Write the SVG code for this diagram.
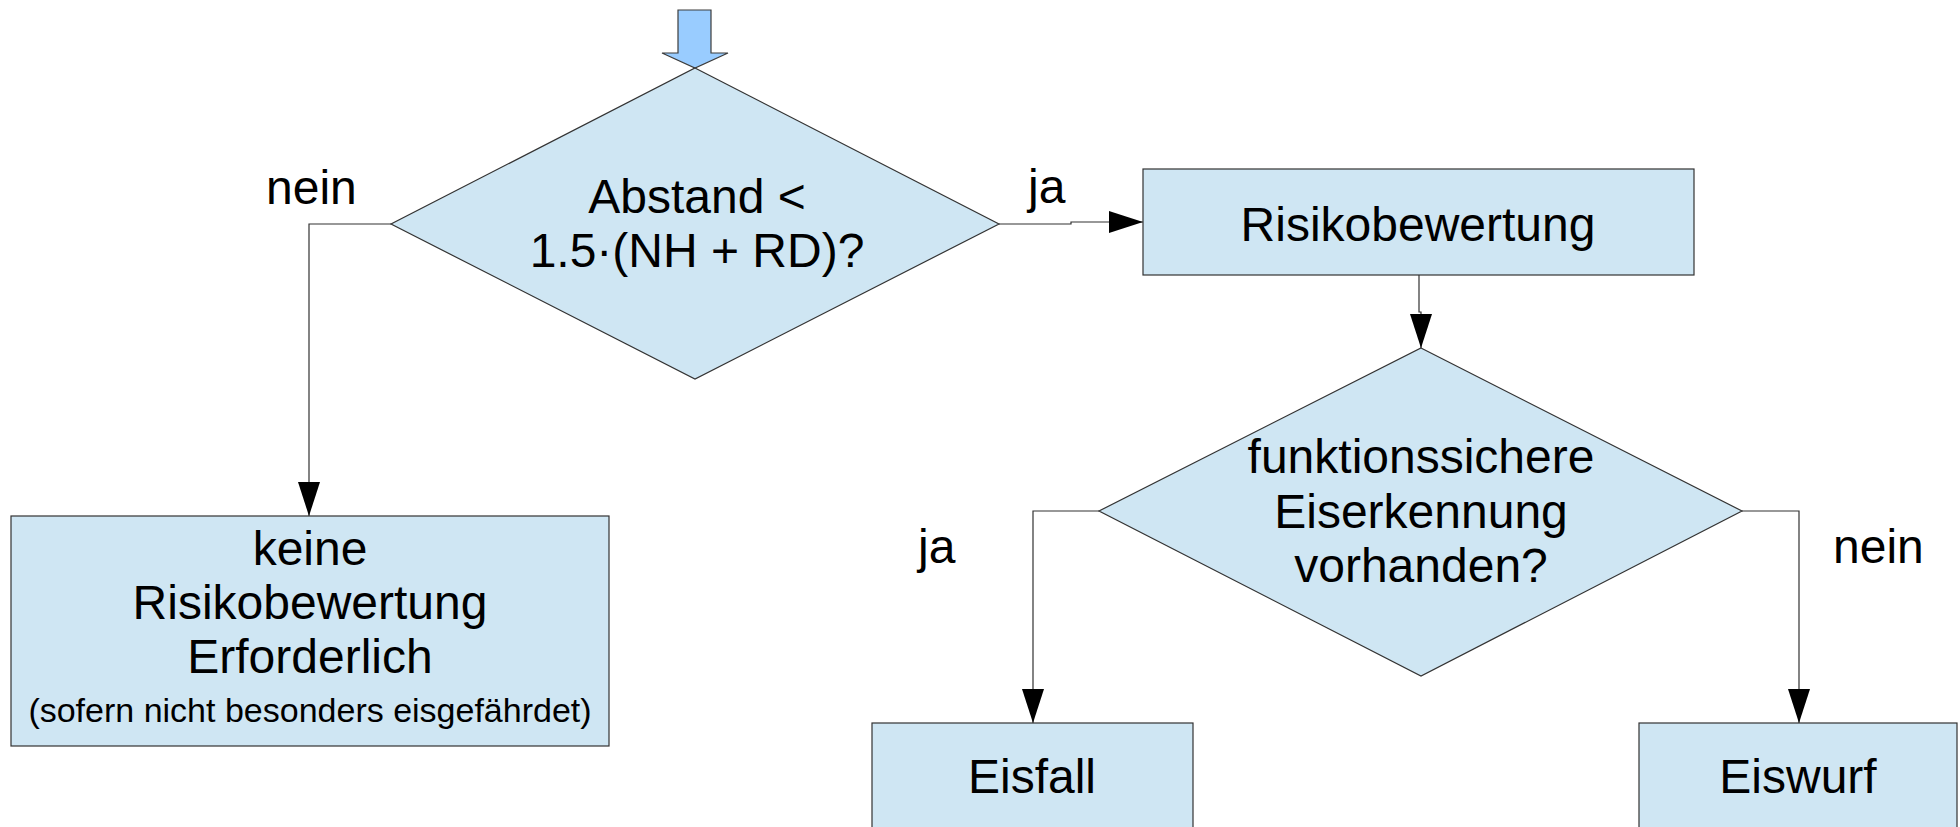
<svg xmlns="http://www.w3.org/2000/svg" width="1960" height="827" viewBox="0 0 1960 827">
  <style>
    .shape { fill: #cfe6f3; stroke: #333333; stroke-width: 1.2; }
    .conn { fill: none; stroke: #333333; stroke-width: 1.2; }
    text { font-family: "Liberation Sans", Arial, sans-serif; fill: #000000; }
    .t48 { font-size: 48px; }
    .t34 { font-size: 34px; }
    .mid { text-anchor: middle; }
  </style>
  <defs>
    <marker id="arrow" markerUnits="userSpaceOnUse" markerWidth="34" markerHeight="22" refX="34" refY="11" orient="auto">
      <path d="M0,0 L34,11 L0,22 z" fill="#000000"/>
    </marker>
  </defs>
  <rect width="1960" height="827" fill="#ffffff"/>

  <g id="connectors">
    <path class="conn" d="M391,224 H309 V516" marker-end="url(#arrow)"/>
    <path class="conn" d="M999,224 H1071 V222 H1143" marker-end="url(#arrow)"/>
    <path class="conn" d="M1419,275 V312 H1421 V348" marker-end="url(#arrow)"/>
    <path class="conn" d="M1099,511 H1033 V723" marker-end="url(#arrow)"/>
    <path class="conn" d="M1742,511 H1799 V723" marker-end="url(#arrow)"/>
  </g>

  <g id="start">
    <polygon points="678,10 711,10 711,53 728,53 695,68 662,53 678,53" fill="#99ccff" stroke="#3c3c3c" stroke-width="1.2"/>
  </g>

  <g id="decision1">
    <polygon class="shape" points="695,68 999,224 695,379 391,224"/>
    <text class="t48 mid" x="697" y="213">Abstand &lt;</text>
    <text class="t48 mid" x="697" y="267">1.5·(NH + RD)?</text>
  </g>

  <g id="label-nein-1">
    <text class="t48" x="266" y="204">nein</text>
  </g>
  <g id="label-ja-1">
    <text class="t48" x="1028" y="203">ja</text>
  </g>

  <g id="keine">
    <rect class="shape" x="11" y="516" width="598" height="230"/>
    <text class="t48 mid" x="310" y="565">keine</text>
    <text class="t48 mid" x="310" y="619">Risikobewertung</text>
    <text class="t48 mid" x="310" y="673">Erforderlich</text>
    <text class="t34 mid" x="310" y="722">(sofern nicht besonders eisgefährdet)</text>
  </g>

  <g id="risikobewertung">
    <rect class="shape" x="1143" y="169" width="551" height="106"/>
    <text class="t48 mid" x="1418" y="241">Risikobewertung</text>
  </g>

  <g id="decision2">
    <polygon class="shape" points="1421,348 1742,511 1421,676 1099,511"/>
    <text class="t48 mid" x="1421" y="473">funktionssichere</text>
    <text class="t48 mid" x="1421" y="528">Eiserkennung</text>
    <text class="t48 mid" x="1421" y="582">vorhanden?</text>
  </g>

  <g id="label-ja-2">
    <text class="t48" x="918" y="563">ja</text>
  </g>
  <g id="label-nein-2">
    <text class="t48" x="1833" y="563">nein</text>
  </g>

  <g id="eisfall">
    <rect class="shape" x="872" y="723" width="321" height="130"/>
    <text class="t48 mid" x="1032" y="793">Eisfall</text>
  </g>

  <g id="eiswurf">
    <rect class="shape" x="1639" y="723" width="318" height="130"/>
    <text class="t48 mid" x="1798" y="793">Eiswurf</text>
  </g>
</svg>
